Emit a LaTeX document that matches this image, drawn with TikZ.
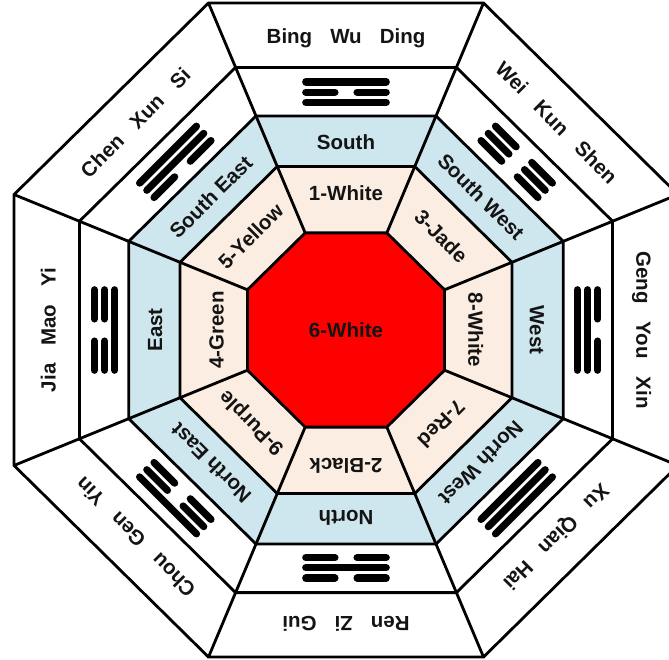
\documentclass[tikz,border=0pt]{standalone}
\usepackage{fontspec}
\setmainfont{Liberation Sans}
\definecolor{ringblue}{RGB}{206,230,238}
\definecolor{ringpeach}{RGB}{252,237,226}
\definecolor{txt}{RGB}{20,20,20}
\newcommand\wsp{\hspace{18pt}}
\newcommand\octo[2]{\path[#1] (22.5:#2) -- (67.5:#2) -- (112.5:#2) -- (157.5:#2) -- (202.5:#2) -- (247.5:#2) -- (292.5:#2) -- (337.5:#2) -- cycle;}
\begin{document}
\begin{tikzpicture}[x=1.006pt, y=0.991pt,
  edge/.style={line width=2.8pt, draw=black},
  lbl/.style={font=\fontsize{20.5}{24}\selectfont\bfseries, text=txt, inner sep=0pt, text height=14.6pt, text depth=0pt},
  yao/.style={line width=7.2pt, line cap=round, black}]
\useasboundingbox (0pt,0pt) rectangle (669pt,-659pt);
\fill[white] (0pt,0pt) rectangle (669pt,-659pt);
\clip (0pt,0pt) rectangle (669pt,-659pt);
\begin{scope}[shift={(346pt,-330pt)}]
  % ring fills
  \octo{fill=white}{357.19}
  \octo{fill=ringblue}{233.80}
  \octo{fill=ringpeach}{178.59}
  \octo{fill=red}{106.07}
  % outlines
  \foreach \R in {357.19,286.83,233.80,178.59,106.07} {\octo{edge}{\R}}
  % radial dividers
  \foreach \a in {22.5,67.5,...,337.5} {\draw[edge] (\a:106.07) -- (\a:357.19);}
  % outer texts
  \foreach \k/\wa/\wb/\wc in {0/Bing/Wu/Ding, 1/Wei/Kun/Shen, 2/Geng/You/Xin, 3/Xu/Qian/Hai, 4/Ren/Zi/Gui, 5/Chou/Gen/Yin, 6/Jia/Mao/Yi, 7/Chen/Xun/Si} {
    \node[lbl, rotate=-45*\k] (o\k) at ({90-45*\k}:296) {\wa\wsp\wb\wsp\wc};
  }
  % trigrams (outer, middle, inner; 1 = solid)
  \foreach \k/\ta/\tb/\tc in {0/1/0/1, 1/0/0/0, 2/0/1/1, 3/1/1/1, 4/0/1/0, 5/1/0/0, 6/0/0/1, 7/1/1/0} {
    \begin{scope}[shift={({90-45*\k}:240)}, rotate=-45*\k]
      \foreach \yy/\s in {10.3/\ta, 0/\tb, -10.3/\tc} {
        \ifnum\s=1
          \draw[yao] (-40,\yy) -- (40,\yy);
        \else
          \draw[yao] (-40,\yy) -- (-11,\yy) (11,\yy) -- (40,\yy);
        \fi
      }
    \end{scope}
  }
  % direction ring
  \foreach \k/\t in {0/South, 1/South West, 2/West, 3/North West, 4/North, 5/North East, 6/East, 7/South East} {
    \node[lbl, rotate=-45*\k] (b\k) at ({90-45*\k}:190) {\t};
  }
  % star ring
  \foreach \k/\t/\r in {0/1-White/138, 1/3-Jade/134, 2/8-White/129, 3/7-Red/134, 4/2-Black/137, 5/9-Purple/134, 6/4-Green/129, 7/5-Yellow/134} {
    \node[lbl, rotate=-45*\k] (p\k) at ({90-45*\k}:\r) {\t};
  }
  \node[lbl] (c) at (0,0) {6-White};
\end{scope}
\end{tikzpicture}
\end{document}
